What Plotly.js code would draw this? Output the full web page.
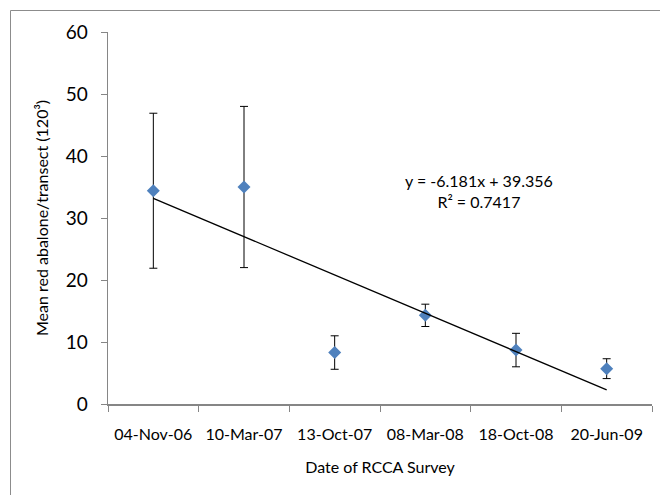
<!DOCTYPE html>
<html>
<head>
<meta charset="utf-8">
<script src="https://cdn.plot.ly/plotly-3.0.1.min.js"></script>
<style>html,body{margin:0;padding:0;background:#fff;}#chart{width:660px;height:495px;}</style>
</head>
<body>
<div id="chart"></div>
<script>
const categories = ["04-Nov-06", "10-Mar-07", "13-Oct-07", "08-Mar-08", "18-Oct-08", "20-Jun-09"];
const meanValues = [34.4, 35.0, 8.3, 14.3, 8.7, 5.7];
const errorValues = [12.5, 13.0, 2.7, 1.8, 2.7, 1.6];
const trendX = ["04-Nov-06", "20-Jun-09"];
const trendY = [33.175, 2.27];
const equationText = "y = -6.181x + 39.356<br>R² = 0.7417";

const font = "Lato, 'Open Sans', sans-serif";

const traces = [
  {
    x: categories, y: meanValues, type: "scatter", mode: "markers",
    marker: {symbol: "diamond", size: 10, color: "#4F81BD", line: {width: 0}},
    error_y: {type: "data", array: errorValues, visible: true, color: "#000", thickness: 1, width: 4},
    showlegend: false, hoverinfo: "x+y"
  },
  {
    x: trendX, y: trendY, type: "scatter", mode: "lines",
    line: {color: "#000", width: 1.3}, showlegend: false
  }
];

const layout = {
  width: 660, height: 495,
  margin: {l: 108, r: 8, t: 32, b: 91},
  paper_bgcolor: "#fff", plot_bgcolor: "#fff",
  font: {family: font, color: "#000"},
  xaxis: {
    type: "category", range: [-0.5, 5.5], categoryarray: categories,
    showgrid: false, zeroline: false, showline: true, linecolor: "#868686", linewidth: 1.5,
    ticks: "outside", tickson: "boundaries", ticklen: 6, tickcolor: "#868686", tickwidth: 1,
    ticklabelstandoff: 15,
    tickfont: {size: 16, family: font, color: "#000"},
    title: {text: "Date of RCCA Survey", font: {size: 16, family: font, color: "#000"}, standoff: 20}
  },
  yaxis: {
    range: [0, 60], dtick: 10, tick0: 0,
    showgrid: false, zeroline: false, showline: true, linecolor: "#868686", linewidth: 1.5,
    ticks: "outside", ticklen: 6, tickcolor: "#868686", tickwidth: 1,
    ticklabelstandoff: 9,
    tickfont: {size: 19, family: font, color: "#000"},
    title: {text: "Mean red abalone/transect (120³)", font: {size: 16, family: font, color: "#000"}, standoff: 13}
  },
  annotations: [
    {xref: "paper", yref: "paper", x: (479 - 108) / 544, y: (404 - 191.5) / 372,
     text: equationText, showarrow: false, xanchor: "center", yanchor: "middle",
     align: "center", font: {size: 16, family: font, color: "#000"}}
  ],
  shapes: [
    {type: "rect", xref: "paper", yref: "paper",
     x0: (10.5 - 108) / 544, x1: (680 - 108) / 544,
     y0: (404 - 520) / 372, y1: (404 - 10.5) / 372,
     line: {color: "#8c8c8c", width: 1}, fillcolor: "rgba(0,0,0,0)", layer: "below"}
  ]
};

Plotly.newPlot("chart", traces, layout, {displayModeBar: false, staticPlot: true});
</script>
</body>
</html>
